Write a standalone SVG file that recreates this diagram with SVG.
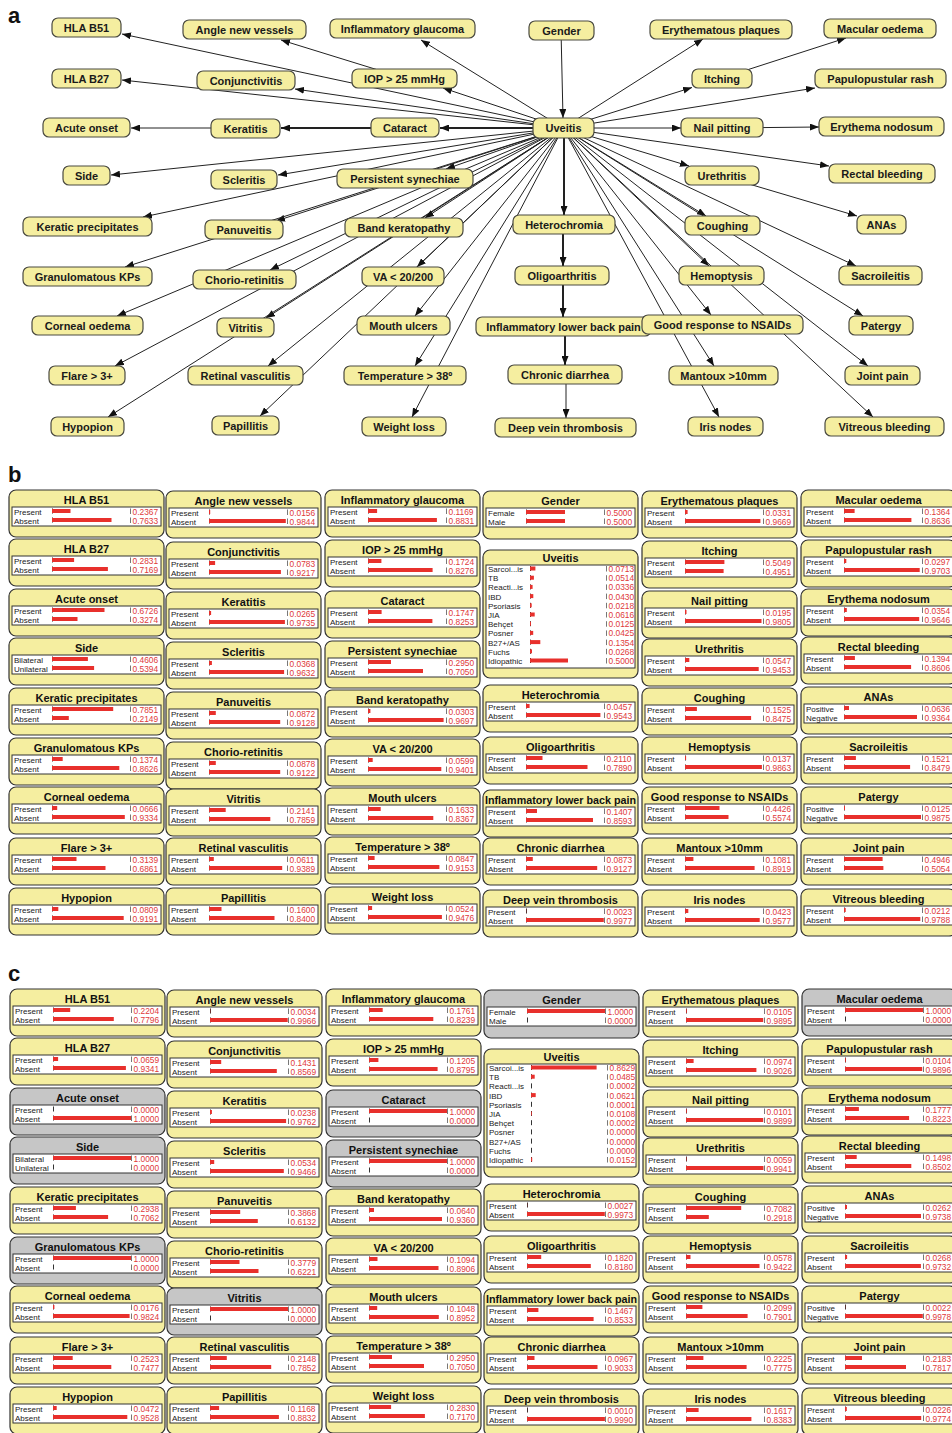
<svg xmlns="http://www.w3.org/2000/svg" xmlns:xlink="http://www.w3.org/1999/xlink" width="952" height="1433" viewBox="0 0 952 1433">
<style>
.pl{font:bold 22px 'Liberation Sans',Arial,sans-serif;fill:#111}
.nd rect{fill:#f5eea0;stroke:#4a4a40;stroke-width:1.2}
.nd text{font:bold 11px 'Liberation Sans',Arial,sans-serif;text-anchor:middle;fill:#1a1a1a}
.e{stroke:#222;stroke-width:1;fill:none;marker-end:url(#ah)}
.k{stroke-width:2}
.bx{fill:#f5eea0;stroke:#333;stroke-width:1.2}
.g{fill:#c6c6c6}
.tt{font:bold 11px 'Liberation Sans',Arial,sans-serif;text-anchor:middle;fill:#111}
.in{fill:#fff;stroke:#333;stroke-width:1}
.l{font:8px 'Liberation Sans',Arial,sans-serif;fill:#222}
.n{font:8.4px 'Liberation Sans',Arial,sans-serif;fill:#e03a3a}
.br{fill:#e8302c}
.tk{fill:#333}
.tg{fill:#777}
</style>
<defs>
<marker id="ah" markerUnits="userSpaceOnUse" markerWidth="9" markerHeight="7" refX="9" refY="3.5" orient="auto"><path d="M0,0 L9,3.5 L0,7 z" fill="#111"/></marker>
<g id="f"><rect class="in" x="3" y="17" width="149" height="19"/><rect class="tk" x="43" y="18.5" width="1" height="5"/><rect class="tk" x="43" y="27.5" width="1" height="5"/><rect class="tg" x="121" y="18.5" width="1" height="5.5"/><rect class="tg" x="121" y="27.5" width="1" height="5.5"/></g>
<g id="fp"><use href="#f"/><text class="l" x="5" y="24.5">Present</text><text class="l" x="5" y="33.5">Absent</text></g>
<g id="fg"><use href="#f"/><text class="l" x="5" y="24.5">Female</text><text class="l" x="5" y="33.5">Male</text></g>
<g id="fs"><use href="#f"/><text class="l" x="5" y="24.5">Bilateral</text><text class="l" x="5" y="33.5">Unilateral</text></g>
<g id="fn"><use href="#f"/><text class="l" x="5" y="24.5">Positive</text><text class="l" x="5" y="33.5">Negative</text></g>
<g id="fu"><rect class="in" x="3" y="15" width="149" height="103"/>
<text class="l" x="5" y="22">Sarcoi...is</text><text class="l" x="5" y="31.2">TB</text><text class="l" x="5" y="40.4">Reacti...is</text><text class="l" x="5" y="49.6">IBD</text><text class="l" x="5" y="58.8">Psoriasis</text><text class="l" x="5" y="68">JIA</text><text class="l" x="5" y="77.2">Behçet</text><text class="l" x="5" y="86.4">Posner</text><text class="l" x="5" y="95.6">B27+/AS</text><text class="l" x="5" y="104.8">Fuchs</text><text class="l" x="5" y="114">Idiopathic</text>
<g class="tk"><rect x="47" y="16" width="1" height="5"/><rect x="47" y="25.2" width="1" height="5"/><rect x="47" y="34.4" width="1" height="5"/><rect x="47" y="43.6" width="1" height="5"/><rect x="47" y="52.8" width="1" height="5"/><rect x="47" y="62" width="1" height="5"/><rect x="47" y="71.2" width="1" height="5"/><rect x="47" y="80.4" width="1" height="5"/><rect x="47" y="89.6" width="1" height="5"/><rect x="47" y="98.8" width="1" height="5"/><rect x="47" y="108" width="1" height="5"/></g>
<g class="tg"><rect x="123" y="16" width="1" height="5.5"/><rect x="123" y="25.2" width="1" height="5.5"/><rect x="123" y="34.4" width="1" height="5.5"/><rect x="123" y="43.6" width="1" height="5.5"/><rect x="123" y="52.8" width="1" height="5.5"/><rect x="123" y="62" width="1" height="5.5"/><rect x="123" y="71.2" width="1" height="5.5"/><rect x="123" y="80.4" width="1" height="5.5"/><rect x="123" y="89.6" width="1" height="5.5"/><rect x="123" y="98.8" width="1" height="5.5"/><rect x="123" y="108" width="1" height="5.5"/></g>
</g>
</defs>
<rect width="952" height="1433" fill="#fff"/>
<text class="pl" x="8" y="23">a</text>
<text class="pl" x="8" y="482">b</text>
<text class="pl" x="8" y="981">c</text>

<g id="connectors">
<line class="e" x1="563" y1="128" x2="122" y2="34"/>
<line class="e" x1="404" y1="78" x2="281" y2="40"/>
<line class="e" x1="563" y1="128" x2="421" y2="40"/>
<line class="e" x1="563" y1="128" x2="443" y2="88"/>
<line class="e" x1="563" y1="128" x2="122" y2="80"/>
<line class="e" x1="563" y1="128" x2="295" y2="89"/>
<line class="e k" x1="563" y1="128" x2="440" y2="128"/>
<line class="e k" x1="405" y1="128" x2="281" y2="128"/>
<line class="e" x1="245" y1="128" x2="131" y2="128"/>
<line class="e" x1="563" y1="128" x2="111" y2="175"/>
<line class="e" x1="563" y1="128" x2="278" y2="175"/>
<line class="e" x1="563" y1="128" x2="446" y2="169"/>
<line class="e" x1="563" y1="128" x2="143" y2="217"/>
<line class="e" x1="563" y1="128" x2="276" y2="221"/>
<line class="e" x1="563" y1="128" x2="125" y2="267"/>
<line class="e" x1="563" y1="128" x2="270" y2="270"/>
<line class="e" x1="563" y1="128" x2="117" y2="316"/>
<line class="e" x1="563" y1="128" x2="266" y2="318"/>
<line class="e" x1="563" y1="128" x2="115" y2="366"/>
<line class="e" x1="563" y1="128" x2="108" y2="417"/>
<line class="e" x1="563" y1="128" x2="268" y2="366"/>
<line class="e" x1="563" y1="128" x2="260" y2="416"/>
<line class="e" x1="563" y1="128" x2="417" y2="267"/>
<line class="e" x1="563" y1="128" x2="415" y2="316"/>
<line class="e" x1="563" y1="128" x2="415" y2="366"/>
<line class="e" x1="563" y1="128" x2="412" y2="417"/>
<line class="e" x1="563" y1="128" x2="425" y2="218"/>
<line class="e k" x1="564" y1="128" x2="564" y2="215"/>
<line class="e k" x1="563" y1="225" x2="563" y2="266"/>
<line class="e k" x1="563" y1="276" x2="563" y2="317"/>
<line class="e k" x1="565" y1="326" x2="565" y2="365"/>
<line class="e" x1="566" y1="375" x2="566" y2="418"/>
<line class="e" x1="561" y1="30" x2="563" y2="118"/>
<line class="e" x1="563" y1="128" x2="703" y2="39"/>
<line class="e" x1="722" y1="78" x2="846" y2="38"/>
<line class="e" x1="563" y1="128" x2="692" y2="87.5"/>
<line class="e" x1="563" y1="128" x2="815" y2="88"/>
<line class="e" x1="563" y1="128" x2="681" y2="128"/>
<line class="e" x1="722" y1="128" x2="819" y2="127"/>
<line class="e" x1="563" y1="128" x2="829" y2="166"/>
<line class="e" x1="563" y1="128" x2="689" y2="166"/>
<line class="e" x1="722" y1="176" x2="857" y2="216"/>
<line class="e" x1="563" y1="128" x2="706" y2="216"/>
<line class="e" x1="563" y1="128" x2="856" y2="266"/>
<line class="e" x1="563" y1="128" x2="863" y2="316"/>
<line class="e" x1="563" y1="128" x2="709" y2="266"/>
<line class="e" x1="563" y1="128" x2="711" y2="315"/>
<line class="e" x1="563" y1="128" x2="868" y2="366"/>
<line class="e" x1="563" y1="128" x2="714" y2="366"/>
<line class="e" x1="563" y1="128" x2="719" y2="417"/>
<line class="e" x1="563" y1="128" x2="873" y2="417"/>
</g>

<g id="panel-a">
<g id="a-hla-b51" class="nd"><rect x="52" y="18" width="69" height="19" rx="6"/><text x="86.5" y="31.5">HLA B51</text></g>
<g id="a-angle" class="nd"><rect x="183" y="20" width="123" height="19" rx="6"/><text x="244.5" y="33.5">Angle new vessels</text></g>
<g id="a-infl-glaucoma" class="nd"><rect x="330" y="19" width="145" height="19" rx="6"/><text x="402.5" y="32.5">Inflammatory glaucoma</text></g>
<g id="a-gender" class="nd"><rect x="529" y="21" width="65" height="19" rx="6"/><text x="561.5" y="34.5">Gender</text></g>
<g id="a-eryth-plaques" class="nd"><rect x="650" y="20" width="142" height="19" rx="6"/><text x="721" y="33.5">Erythematous plaques</text></g>
<g id="a-macular" class="nd"><rect x="824" y="19" width="112" height="19" rx="6"/><text x="880" y="32.5">Macular oedema</text></g>
<g id="a-hla-b27" class="nd"><rect x="52" y="69" width="69" height="19" rx="6"/><text x="86.5" y="82.5">HLA B27</text></g>
<g id="a-conj" class="nd"><rect x="197" y="71" width="98" height="19" rx="6"/><text x="246" y="84.5">Conjunctivitis</text></g>
<g id="a-iop" class="nd"><rect x="352" y="69" width="105" height="19" rx="6"/><text x="404.5" y="82.5">IOP &gt; 25 mmHg</text></g>
<g id="a-itching" class="nd"><rect x="692" y="69" width="60" height="19" rx="6"/><text x="722" y="82.5">Itching</text></g>
<g id="a-papulo" class="nd"><rect x="815" y="69" width="131" height="19" rx="6"/><text x="880.5" y="82.5">Papulopustular rash</text></g>
<g id="a-acute" class="nd"><rect x="43" y="118" width="87" height="19" rx="6"/><text x="86.5" y="131.5">Acute onset</text></g>
<g id="a-keratitis" class="nd"><rect x="211" y="119" width="69" height="19" rx="6"/><text x="245.5" y="132.5">Keratitis</text></g>
<g id="a-cataract" class="nd"><rect x="371" y="118" width="68" height="19" rx="6"/><text x="405" y="131.5">Cataract</text></g>
<g id="a-uveitis" class="nd"><rect x="533" y="118" width="61" height="20" rx="6"/><text x="563.5" y="132">Uveitis</text></g>
<g id="a-nail" class="nd"><rect x="681" y="118" width="82" height="19" rx="6"/><text x="722" y="131.5">Nail pitting</text></g>
<g id="a-eryth-nod" class="nd"><rect x="819" y="117" width="125" height="19" rx="6"/><text x="881.5" y="130.5">Erythema nodosum</text></g>
<g id="a-side" class="nd"><rect x="63" y="166" width="47" height="19" rx="6"/><text x="86.5" y="179.5">Side</text></g>
<g id="a-scleritis" class="nd"><rect x="211" y="170" width="66" height="19" rx="6"/><text x="244" y="183.5">Scleritis</text></g>
<g id="a-synechiae" class="nd"><rect x="337" y="169" width="136" height="19" rx="6"/><text x="405" y="182.5">Persistent synechiae</text></g>
<g id="a-urethritis" class="nd"><rect x="685" y="166" width="74" height="19" rx="6"/><text x="722" y="179.5">Urethritis</text></g>
<g id="a-rectal" class="nd"><rect x="829" y="164" width="106" height="19" rx="6"/><text x="882" y="177.5">Rectal bleeding</text></g>
<g id="a-kp" class="nd"><rect x="23" y="217" width="129" height="19" rx="6"/><text x="87.5" y="230.5">Keratic precipitates</text></g>
<g id="a-panuveitis" class="nd"><rect x="205" y="220" width="78" height="19" rx="6"/><text x="244" y="233.5">Panuveitis</text></g>
<g id="a-band" class="nd"><rect x="345" y="218" width="118" height="19" rx="6"/><text x="404" y="231.5">Band keratopathy</text></g>
<g id="a-hetero" class="nd"><rect x="513" y="215" width="102" height="19" rx="6"/><text x="564" y="228.5">Heterochromia</text></g>
<g id="a-coughing" class="nd"><rect x="685" y="216" width="75" height="19" rx="6"/><text x="722.5" y="229.5">Coughing</text></g>
<g id="a-anas" class="nd"><rect x="857" y="215" width="49" height="19" rx="6"/><text x="881.5" y="228.5">ANAs</text></g>
<g id="a-gkp" class="nd"><rect x="23" y="267" width="129" height="19" rx="6"/><text x="87.5" y="280.5">Granulomatous KPs</text></g>
<g id="a-chorio" class="nd"><rect x="193" y="270" width="103" height="19" rx="6"/><text x="244.5" y="283.5">Chorio-retinitis</text></g>
<g id="a-va" class="nd"><rect x="362" y="267" width="82" height="19" rx="6"/><text x="403" y="280.5">VA &lt; 20/200</text></g>
<g id="a-oligo" class="nd"><rect x="515" y="266" width="94" height="19" rx="6"/><text x="562" y="279.5">Oligoarthritis</text></g>
<g id="a-hemoptysis" class="nd"><rect x="679" y="266" width="85" height="19" rx="6"/><text x="721.5" y="279.5">Hemoptysis</text></g>
<g id="a-sacro" class="nd"><rect x="839" y="266" width="83" height="19" rx="6"/><text x="880.5" y="279.5">Sacroileitis</text></g>
<g id="a-corneal" class="nd"><rect x="32" y="316" width="111" height="19" rx="6"/><text x="87.5" y="329.5">Corneal oedema</text></g>
<g id="a-vitritis" class="nd"><rect x="217" y="318" width="57" height="19" rx="6"/><text x="245.5" y="331.5">Vitritis</text></g>
<g id="a-mouth" class="nd"><rect x="357" y="316" width="93" height="19" rx="6"/><text x="403.5" y="329.5">Mouth ulcers</text></g>
<g id="a-ilbp" class="nd"><rect x="476" y="317" width="175" height="19" rx="6"/><text x="563.5" y="330.5">Inflammatory lower back pain</text></g>
<g id="a-nsaids" class="nd"><rect x="642" y="315" width="161" height="19" rx="6"/><text x="722.5" y="328.5">Good response to NSAIDs</text></g>
<g id="a-patergy" class="nd"><rect x="849" y="316" width="64" height="19" rx="6"/><text x="881" y="329.5">Patergy</text></g>
<g id="a-flare" class="nd"><rect x="49" y="366" width="76" height="19" rx="6"/><text x="87" y="379.5">Flare &gt; 3+</text></g>
<g id="a-retinal" class="nd"><rect x="188" y="366" width="115" height="19" rx="6"/><text x="245.5" y="379.5">Retinal vasculitis</text></g>
<g id="a-temp" class="nd"><rect x="344" y="366" width="122" height="19" rx="6"/><text x="405" y="379.5">Temperature &gt; 38º</text></g>
<g id="a-diarrhea" class="nd"><rect x="508" y="365" width="114" height="19" rx="6"/><text x="565" y="378.5">Chronic diarrhea</text></g>
<g id="a-mantoux" class="nd"><rect x="669" y="366" width="109" height="19" rx="6"/><text x="723.5" y="379.5">Mantoux &gt;10mm</text></g>
<g id="a-joint" class="nd"><rect x="845" y="366" width="75" height="19" rx="6"/><text x="882.5" y="379.5">Joint pain</text></g>
<g id="a-hypopion" class="nd"><rect x="51" y="417" width="73" height="19" rx="6"/><text x="87.5" y="430.5">Hypopion</text></g>
<g id="a-papillitis" class="nd"><rect x="212" y="416" width="67" height="19" rx="6"/><text x="245.5" y="429.5">Papillitis</text></g>
<g id="a-weight" class="nd"><rect x="362" y="417" width="84" height="19" rx="6"/><text x="404" y="430.5">Weight loss</text></g>
<g id="a-dvt" class="nd"><rect x="495" y="418" width="141" height="19" rx="6"/><text x="565.5" y="431.5">Deep vein thrombosis</text></g>
<g id="a-iris" class="nd"><rect x="688" y="417" width="75" height="19" rx="6"/><text x="725.5" y="430.5">Iris nodes</text></g>
<g id="a-vitreous" class="nd"><rect x="825" y="417" width="119" height="19" rx="6"/><text x="884.5" y="430.5">Vitreous bleeding</text></g>
</g>

<g id="panel-b">
<g id="b-hla-b51" transform="translate(9,490)"><rect class="bx" width="155" height="47" rx="7"/><text class="tt" x="77.5" y="14">HLA B51</text><use href="#fp"/><rect class="br" x="43" y="19" width="18.5" height="4"/><rect class="br" x="43" y="28" width="59.5" height="4"/><text class="n" x="123.5" y="24.5">0.2367</text><text class="n" x="123.5" y="33.5">0.7633</text></g>
<g id="b-hla-b27" transform="translate(9,539)"><rect class="bx" width="155" height="47" rx="7"/><text class="tt" x="77.5" y="14">HLA B27</text><use href="#fp"/><rect class="br" x="43" y="19" width="22.1" height="4"/><rect class="br" x="43" y="28" width="55.9" height="4"/><text class="n" x="123.5" y="24.5">0.2831</text><text class="n" x="123.5" y="33.5">0.7169</text></g>
<g id="b-acute" transform="translate(9,589)"><rect class="bx" width="155" height="47" rx="7"/><text class="tt" x="77.5" y="14">Acute onset</text><use href="#fp"/><rect class="br" x="43" y="19" width="52.5" height="4"/><rect class="br" x="43" y="28" width="25.5" height="4"/><text class="n" x="123.5" y="24.5">0.6726</text><text class="n" x="123.5" y="33.5">0.3274</text></g>
<g id="b-side" transform="translate(9,638)"><rect class="bx" width="155" height="47" rx="7"/><text class="tt" x="77.5" y="14">Side</text><use href="#fs"/><rect class="br" x="43" y="19" width="35.9" height="4"/><rect class="br" x="43" y="28" width="42.1" height="4"/><text class="n" x="123.5" y="24.5">0.4606</text><text class="n" x="123.5" y="33.5">0.5394</text></g>
<g id="b-kp" transform="translate(9,688)"><rect class="bx" width="155" height="47" rx="7"/><text class="tt" x="77.5" y="14">Keratic precipitates</text><use href="#fp"/><rect class="br" x="43" y="19" width="61.2" height="4"/><rect class="br" x="43" y="28" width="16.8" height="4"/><text class="n" x="123.5" y="24.5">0.7851</text><text class="n" x="123.5" y="33.5">0.2149</text></g>
<g id="b-gkp" transform="translate(9,738)"><rect class="bx" width="155" height="47" rx="7"/><text class="tt" x="77.5" y="14">Granulomatous KPs</text><use href="#fp"/><rect class="br" x="43" y="19" width="10.7" height="4"/><rect class="br" x="43" y="28" width="67.3" height="4"/><text class="n" x="123.5" y="24.5">0.1374</text><text class="n" x="123.5" y="33.5">0.8626</text></g>
<g id="b-corneal" transform="translate(9,787)"><rect class="bx" width="155" height="47" rx="7"/><text class="tt" x="77.5" y="14">Corneal oedema</text><use href="#fp"/><rect class="br" x="43" y="19" width="5.2" height="4"/><rect class="br" x="43" y="28" width="72.8" height="4"/><text class="n" x="123.5" y="24.5">0.0666</text><text class="n" x="123.5" y="33.5">0.9334</text></g>
<g id="b-flare" transform="translate(9,838)"><rect class="bx" width="155" height="47" rx="7"/><text class="tt" x="77.5" y="14">Flare &gt; 3+</text><use href="#fp"/><rect class="br" x="43" y="19" width="24.5" height="4"/><rect class="br" x="43" y="28" width="53.5" height="4"/><text class="n" x="123.5" y="24.5">0.3139</text><text class="n" x="123.5" y="33.5">0.6861</text></g>
<g id="b-hypopion" transform="translate(9,888)"><rect class="bx" width="155" height="47" rx="7"/><text class="tt" x="77.5" y="14">Hypopion</text><use href="#fp"/><rect class="br" x="43" y="19" width="6.3" height="4"/><rect class="br" x="43" y="28" width="71.7" height="4"/><text class="n" x="123.5" y="24.5">0.0809</text><text class="n" x="123.5" y="33.5">0.9191</text></g>

<g id="b-angle" transform="translate(166,491)"><rect class="bx" width="155" height="47" rx="7"/><text class="tt" x="77.5" y="14">Angle new vessels</text><use href="#fp"/><rect class="br" x="43" y="19" width="1.2" height="4"/><rect class="br" x="43" y="28" width="76.8" height="4"/><text class="n" x="123.5" y="24.5">0.0156</text><text class="n" x="123.5" y="33.5">0.9844</text></g>
<g id="b-conj" transform="translate(166,542)"><rect class="bx" width="155" height="47" rx="7"/><text class="tt" x="77.5" y="14">Conjunctivitis</text><use href="#fp"/><rect class="br" x="43" y="19" width="6.1" height="4"/><rect class="br" x="43" y="28" width="71.9" height="4"/><text class="n" x="123.5" y="24.5">0.0783</text><text class="n" x="123.5" y="33.5">0.9217</text></g>
<g id="b-keratitis" transform="translate(166,592)"><rect class="bx" width="155" height="47" rx="7"/><text class="tt" x="77.5" y="14">Keratitis</text><use href="#fp"/><rect class="br" x="43" y="19" width="2.1" height="4"/><rect class="br" x="43" y="28" width="75.9" height="4"/><text class="n" x="123.5" y="24.5">0.0265</text><text class="n" x="123.5" y="33.5">0.9735</text></g>
<g id="b-scleritis" transform="translate(166,642)"><rect class="bx" width="155" height="47" rx="7"/><text class="tt" x="77.5" y="14">Scleritis</text><use href="#fp"/><rect class="br" x="43" y="19" width="2.9" height="4"/><rect class="br" x="43" y="28" width="75.1" height="4"/><text class="n" x="123.5" y="24.5">0.0368</text><text class="n" x="123.5" y="33.5">0.9632</text></g>
<g id="b-panuveitis" transform="translate(166,692)"><rect class="bx" width="155" height="47" rx="7"/><text class="tt" x="77.5" y="14">Panuveitis</text><use href="#fp"/><rect class="br" x="43" y="19" width="6.8" height="4"/><rect class="br" x="43" y="28" width="71.2" height="4"/><text class="n" x="123.5" y="24.5">0.0872</text><text class="n" x="123.5" y="33.5">0.9128</text></g>
<g id="b-chorio" transform="translate(166,742)"><rect class="bx" width="155" height="47" rx="7"/><text class="tt" x="77.5" y="14">Chorio-retinitis</text><use href="#fp"/><rect class="br" x="43" y="19" width="6.8" height="4"/><rect class="br" x="43" y="28" width="71.2" height="4"/><text class="n" x="123.5" y="24.5">0.0878</text><text class="n" x="123.5" y="33.5">0.9122</text></g>
<g id="b-vitritis" transform="translate(166,789)"><rect class="bx" width="155" height="47" rx="7"/><text class="tt" x="77.5" y="14">Vitritis</text><use href="#fp"/><rect class="br" x="43" y="19" width="16.7" height="4"/><rect class="br" x="43" y="28" width="61.3" height="4"/><text class="n" x="123.5" y="24.5">0.2141</text><text class="n" x="123.5" y="33.5">0.7859</text></g>
<g id="b-retinal" transform="translate(166,838)"><rect class="bx" width="155" height="47" rx="7"/><text class="tt" x="77.5" y="14">Retinal vasculitis</text><use href="#fp"/><rect class="br" x="43" y="19" width="4.8" height="4"/><rect class="br" x="43" y="28" width="73.2" height="4"/><text class="n" x="123.5" y="24.5">0.0611</text><text class="n" x="123.5" y="33.5">0.9389</text></g>
<g id="b-papillitis" transform="translate(166,888)"><rect class="bx" width="155" height="47" rx="7"/><text class="tt" x="77.5" y="14">Papillitis</text><use href="#fp"/><rect class="br" x="43" y="19" width="12.5" height="4"/><rect class="br" x="43" y="28" width="65.5" height="4"/><text class="n" x="123.5" y="24.5">0.1600</text><text class="n" x="123.5" y="33.5">0.8400</text></g>

<g id="b-infl-glaucoma" transform="translate(325,490)"><rect class="bx" width="155" height="47" rx="7"/><text class="tt" x="77.5" y="14">Inflammatory glaucoma</text><use href="#fp"/><rect class="br" x="43" y="19" width="9.1" height="4"/><rect class="br" x="43" y="28" width="68.9" height="4"/><text class="n" x="123.5" y="24.5">0.1169</text><text class="n" x="123.5" y="33.5">0.8831</text></g>
<g id="b-iop" transform="translate(325,540)"><rect class="bx" width="155" height="47" rx="7"/><text class="tt" x="77.5" y="14">IOP &gt; 25 mmHg</text><use href="#fp"/><rect class="br" x="43" y="19" width="13.4" height="4"/><rect class="br" x="43" y="28" width="64.6" height="4"/><text class="n" x="123.5" y="24.5">0.1724</text><text class="n" x="123.5" y="33.5">0.8276</text></g>
<g id="b-cataract" transform="translate(325,591)"><rect class="bx" width="155" height="47" rx="7"/><text class="tt" x="77.5" y="14">Cataract</text><use href="#fp"/><rect class="br" x="43" y="19" width="13.6" height="4"/><rect class="br" x="43" y="28" width="64.4" height="4"/><text class="n" x="123.5" y="24.5">0.1747</text><text class="n" x="123.5" y="33.5">0.8253</text></g>
<g id="b-synechiae" transform="translate(325,641)"><rect class="bx" width="155" height="47" rx="7"/><text class="tt" x="77.5" y="14">Persistent synechiae</text><use href="#fp"/><rect class="br" x="43" y="19" width="23" height="4"/><rect class="br" x="43" y="28" width="55" height="4"/><text class="n" x="123.5" y="24.5">0.2950</text><text class="n" x="123.5" y="33.5">0.7050</text></g>
<g id="b-band" transform="translate(325,690)"><rect class="bx" width="155" height="47" rx="7"/><text class="tt" x="77.5" y="14">Band keratopathy</text><use href="#fp"/><rect class="br" x="43" y="19" width="2.4" height="4"/><rect class="br" x="43" y="28" width="75.6" height="4"/><text class="n" x="123.5" y="24.5">0.0303</text><text class="n" x="123.5" y="33.5">0.9697</text></g>
<g id="b-va" transform="translate(325,739)"><rect class="bx" width="155" height="47" rx="7"/><text class="tt" x="77.5" y="14">VA &lt; 20/200</text><use href="#fp"/><rect class="br" x="43" y="19" width="4.7" height="4"/><rect class="br" x="43" y="28" width="73.3" height="4"/><text class="n" x="123.5" y="24.5">0.0599</text><text class="n" x="123.5" y="33.5">0.9401</text></g>
<g id="b-mouth" transform="translate(325,788)"><rect class="bx" width="155" height="47" rx="7"/><text class="tt" x="77.5" y="14">Mouth ulcers</text><use href="#fp"/><rect class="br" x="43" y="19" width="12.7" height="4"/><rect class="br" x="43" y="28" width="65.3" height="4"/><text class="n" x="123.5" y="24.5">0.1633</text><text class="n" x="123.5" y="33.5">0.8367</text></g>
<g id="b-temp" transform="translate(325,837)"><rect class="bx" width="155" height="47" rx="7"/><text class="tt" x="77.5" y="14">Temperature &gt; 38º</text><use href="#fp"/><rect class="br" x="43" y="19" width="6.6" height="4"/><rect class="br" x="43" y="28" width="71.4" height="4"/><text class="n" x="123.5" y="24.5">0.0847</text><text class="n" x="123.5" y="33.5">0.9153</text></g>
<g id="b-weight" transform="translate(325,887)"><rect class="bx" width="155" height="47" rx="7"/><text class="tt" x="77.5" y="14">Weight loss</text><use href="#fp"/><rect class="br" x="43" y="19" width="4.1" height="4"/><rect class="br" x="43" y="28" width="73.9" height="4"/><text class="n" x="123.5" y="24.5">0.0524</text><text class="n" x="123.5" y="33.5">0.9476</text></g>

<g id="b-gender" transform="translate(483,491)"><rect class="bx" width="155" height="48" rx="7"/><text class="tt" x="77.5" y="14">Gender</text><use href="#fg"/><rect class="br" x="43" y="19" width="39" height="4"/><rect class="br" x="43" y="28" width="39" height="4"/><text class="n" x="123.5" y="24.5">0.5000</text><text class="n" x="123.5" y="33.5">0.5000</text></g>
<g id="b-uveitis" transform="translate(483,550)"><rect class="bx" width="155" height="128" rx="7"/><text class="tt" x="77.5" y="12">Uveitis</text><use href="#fu"/>
<g class="br"><rect x="47" y="16.5" width="5.4" height="4"/><rect x="47" y="25.7" width="3.9" height="4"/><rect x="47" y="34.9" width="2.6" height="4"/><rect x="47" y="44.1" width="3.3" height="4"/><rect x="47" y="53.3" width="1.7" height="4"/><rect x="47" y="62.5" width="4.7" height="4"/><rect x="47" y="71.7" width="1" height="4"/><rect x="47" y="80.9" width="3.2" height="4"/><rect x="47" y="90.1" width="10.3" height="4"/><rect x="47" y="99.3" width="2" height="4"/><rect x="47" y="108.5" width="38" height="4"/></g>
<text class="n" x="125.5" y="22">0.0713</text><text class="n" x="125.5" y="31.2">0.0514</text><text class="n" x="125.5" y="40.4">0.0336</text><text class="n" x="125.5" y="49.6">0.0430</text><text class="n" x="125.5" y="58.8">0.0218</text><text class="n" x="125.5" y="68">0.0616</text><text class="n" x="125.5" y="77.2">0.0125</text><text class="n" x="125.5" y="86.4">0.0425</text><text class="n" x="125.5" y="95.6">0.1354</text><text class="n" x="125.5" y="104.8">0.0268</text><text class="n" x="125.5" y="114">0.5000</text></g>
<g id="b-hetero" transform="translate(483,685)"><rect class="bx" width="155" height="47" rx="7"/><text class="tt" x="77.5" y="14">Heterochromia</text><use href="#fp"/><rect class="br" x="43" y="19" width="3.6" height="4"/><rect class="br" x="43" y="28" width="74.4" height="4"/><text class="n" x="123.5" y="24.5">0.0457</text><text class="n" x="123.5" y="33.5">0.9543</text></g>
<g id="b-oligo" transform="translate(483,737)"><rect class="bx" width="155" height="47" rx="7"/><text class="tt" x="77.5" y="14">Oligoarthritis</text><use href="#fp"/><rect class="br" x="43" y="19" width="16.5" height="4"/><rect class="br" x="43" y="28" width="61.5" height="4"/><text class="n" x="123.5" y="24.5">0.2110</text><text class="n" x="123.5" y="33.5">0.7890</text></g>
<g id="b-ilbp" transform="translate(483,790)"><rect class="bx" width="155" height="47" rx="7"/><text class="tt" x="77.5" y="14" textLength="151" lengthAdjust="spacingAndGlyphs">Inflammatory lower back pain</text><use href="#fp"/><rect class="br" x="43" y="19" width="11" height="4"/><rect class="br" x="43" y="28" width="67" height="4"/><text class="n" x="123.5" y="24.5">0.1407</text><text class="n" x="123.5" y="33.5">0.8593</text></g>
<g id="b-diarrhea" transform="translate(483,838)"><rect class="bx" width="155" height="47" rx="7"/><text class="tt" x="77.5" y="14">Chronic diarrhea</text><use href="#fp"/><rect class="br" x="43" y="19" width="6.8" height="4"/><rect class="br" x="43" y="28" width="71.2" height="4"/><text class="n" x="123.5" y="24.5">0.0873</text><text class="n" x="123.5" y="33.5">0.9127</text></g>
<g id="b-dvt" transform="translate(483,890)"><rect class="bx" width="155" height="47" rx="7"/><text class="tt" x="77.5" y="14">Deep vein thrombosis</text><use href="#fp"/><rect class="br" x="43" y="19" width="0.2" height="4"/><rect class="br" x="43" y="28" width="77.8" height="4"/><text class="n" x="123.5" y="24.5">0.0023</text><text class="n" x="123.5" y="33.5">0.9977</text></g>

<g id="b-eryth-plaques" transform="translate(642,491)"><rect class="bx" width="155" height="47" rx="7"/><text class="tt" x="77.5" y="14">Erythematous plaques</text><use href="#fp"/><rect class="br" x="43" y="19" width="2.6" height="4"/><rect class="br" x="43" y="28" width="75.4" height="4"/><text class="n" x="123.5" y="24.5">0.0331</text><text class="n" x="123.5" y="33.5">0.9669</text></g>
<g id="b-itching" transform="translate(642,541)"><rect class="bx" width="155" height="47" rx="7"/><text class="tt" x="77.5" y="14">Itching</text><use href="#fp"/><rect class="br" x="43" y="19" width="39.4" height="4"/><rect class="br" x="43" y="28" width="38.6" height="4"/><text class="n" x="123.5" y="24.5">0.5049</text><text class="n" x="123.5" y="33.5">0.4951</text></g>
<g id="b-nail" transform="translate(642,591)"><rect class="bx" width="155" height="47" rx="7"/><text class="tt" x="77.5" y="14">Nail pitting</text><use href="#fp"/><rect class="br" x="43" y="19" width="1.5" height="4"/><rect class="br" x="43" y="28" width="76.5" height="4"/><text class="n" x="123.5" y="24.5">0.0195</text><text class="n" x="123.5" y="33.5">0.9805</text></g>
<g id="b-urethritis" transform="translate(642,639)"><rect class="bx" width="155" height="47" rx="7"/><text class="tt" x="77.5" y="14">Urethritis</text><use href="#fp"/><rect class="br" x="43" y="19" width="4.3" height="4"/><rect class="br" x="43" y="28" width="73.7" height="4"/><text class="n" x="123.5" y="24.5">0.0547</text><text class="n" x="123.5" y="33.5">0.9453</text></g>
<g id="b-coughing" transform="translate(642,688)"><rect class="bx" width="155" height="47" rx="7"/><text class="tt" x="77.5" y="14">Coughing</text><use href="#fp"/><rect class="br" x="43" y="19" width="11.9" height="4"/><rect class="br" x="43" y="28" width="66.1" height="4"/><text class="n" x="123.5" y="24.5">0.1525</text><text class="n" x="123.5" y="33.5">0.8475</text></g>
<g id="b-hemoptysis" transform="translate(642,737)"><rect class="bx" width="155" height="47" rx="7"/><text class="tt" x="77.5" y="14">Hemoptysis</text><use href="#fp"/><rect class="br" x="43" y="19" width="1.1" height="4"/><rect class="br" x="43" y="28" width="76.9" height="4"/><text class="n" x="123.5" y="24.5">0.0137</text><text class="n" x="123.5" y="33.5">0.9863</text></g>
<g id="b-nsaids" transform="translate(642,787)"><rect class="bx" width="155" height="47" rx="7"/><text class="tt" x="77.5" y="14">Good response to NSAIDs</text><use href="#fp"/><rect class="br" x="43" y="19" width="34.5" height="4"/><rect class="br" x="43" y="28" width="43.5" height="4"/><text class="n" x="123.5" y="24.5">0.4426</text><text class="n" x="123.5" y="33.5">0.5574</text></g>
<g id="b-mantoux" transform="translate(642,838)"><rect class="bx" width="155" height="47" rx="7"/><text class="tt" x="77.5" y="14">Mantoux &gt;10mm</text><use href="#fp"/><rect class="br" x="43" y="19" width="8.4" height="4"/><rect class="br" x="43" y="28" width="69.6" height="4"/><text class="n" x="123.5" y="24.5">0.1081</text><text class="n" x="123.5" y="33.5">0.8919</text></g>
<g id="b-iris" transform="translate(642,890)"><rect class="bx" width="155" height="47" rx="7"/><text class="tt" x="77.5" y="14">Iris nodes</text><use href="#fp"/><rect class="br" x="43" y="19" width="3.3" height="4"/><rect class="br" x="43" y="28" width="74.7" height="4"/><text class="n" x="123.5" y="24.5">0.0423</text><text class="n" x="123.5" y="33.5">0.9577</text></g>

<g id="b-macular" transform="translate(801,490)"><rect class="bx" width="155" height="47" rx="7"/><text class="tt" x="77.5" y="14">Macular oedema</text><use href="#fp"/><rect class="br" x="43" y="19" width="10.6" height="4"/><rect class="br" x="43" y="28" width="67.4" height="4"/><text class="n" x="123.5" y="24.5">0.1364</text><text class="n" x="123.5" y="33.5">0.8636</text></g>
<g id="b-papulo" transform="translate(801,540)"><rect class="bx" width="155" height="47" rx="7"/><text class="tt" x="77.5" y="14">Papulopustular rash</text><use href="#fp"/><rect class="br" x="43" y="19" width="2.3" height="4"/><rect class="br" x="43" y="28" width="75.7" height="4"/><text class="n" x="123.5" y="24.5">0.0297</text><text class="n" x="123.5" y="33.5">0.9703</text></g>
<g id="b-eryth-nod" transform="translate(801,589)"><rect class="bx" width="155" height="47" rx="7"/><text class="tt" x="77.5" y="14">Erythema nodosum</text><use href="#fp"/><rect class="br" x="43" y="19" width="2.8" height="4"/><rect class="br" x="43" y="28" width="75.2" height="4"/><text class="n" x="123.5" y="24.5">0.0354</text><text class="n" x="123.5" y="33.5">0.9646</text></g>
<g id="b-rectal" transform="translate(801,637)"><rect class="bx" width="155" height="47" rx="7"/><text class="tt" x="77.5" y="14">Rectal bleeding</text><use href="#fp"/><rect class="br" x="43" y="19" width="10.9" height="4"/><rect class="br" x="43" y="28" width="67.1" height="4"/><text class="n" x="123.5" y="24.5">0.1394</text><text class="n" x="123.5" y="33.5">0.8606</text></g>
<g id="b-anas" transform="translate(801,687)"><rect class="bx" width="155" height="47" rx="7"/><text class="tt" x="77.5" y="14">ANAs</text><use href="#fn"/><rect class="br" x="43" y="19" width="5" height="4"/><rect class="br" x="43" y="28" width="73" height="4"/><text class="n" x="123.5" y="24.5">0.0636</text><text class="n" x="123.5" y="33.5">0.9364</text></g>
<g id="b-sacro" transform="translate(801,737)"><rect class="bx" width="155" height="47" rx="7"/><text class="tt" x="77.5" y="14">Sacroileitis</text><use href="#fp"/><rect class="br" x="43" y="19" width="11.9" height="4"/><rect class="br" x="43" y="28" width="66.1" height="4"/><text class="n" x="123.5" y="24.5">0.1521</text><text class="n" x="123.5" y="33.5">0.8479</text></g>
<g id="b-patergy" transform="translate(801,787)"><rect class="bx" width="155" height="47" rx="7"/><text class="tt" x="77.5" y="14">Patergy</text><use href="#fn"/><rect class="br" x="43" y="19" width="1" height="4"/><rect class="br" x="43" y="28" width="77" height="4"/><text class="n" x="123.5" y="24.5">0.0125</text><text class="n" x="123.5" y="33.5">0.9875</text></g>
<g id="b-joint" transform="translate(801,838)"><rect class="bx" width="155" height="47" rx="7"/><text class="tt" x="77.5" y="14">Joint pain</text><use href="#fp"/><rect class="br" x="43" y="19" width="38.6" height="4"/><rect class="br" x="43" y="28" width="39.4" height="4"/><text class="n" x="123.5" y="24.5">0.4946</text><text class="n" x="123.5" y="33.5">0.5054</text></g>
<g id="b-vitreous" transform="translate(801,889)"><rect class="bx" width="155" height="47" rx="7"/><text class="tt" x="77.5" y="14">Vitreous bleeding</text><use href="#fp"/><rect class="br" x="43" y="19" width="1.7" height="4"/><rect class="br" x="43" y="28" width="76.3" height="4"/><text class="n" x="123.5" y="24.5">0.0212</text><text class="n" x="123.5" y="33.5">0.9788</text></g>
</g>

<g id="panel-c" transform="translate(1,499)">
<g id="c-hla-b51" transform="translate(9,490)"><rect class="bx" width="155" height="47" rx="7"/><text class="tt" x="77.5" y="14">HLA B51</text><use href="#fp"/><rect class="br" x="43" y="19" width="17.2" height="4"/><rect class="br" x="43" y="28" width="60.8" height="4"/><text class="n" x="123.5" y="24.5">0.2204</text><text class="n" x="123.5" y="33.5">0.7796</text></g>
<g id="c-hla-b27" transform="translate(9,539)"><rect class="bx" width="155" height="47" rx="7"/><text class="tt" x="77.5" y="14">HLA B27</text><use href="#fp"/><rect class="br" x="43" y="19" width="5.1" height="4"/><rect class="br" x="43" y="28" width="72.9" height="4"/><text class="n" x="123.5" y="24.5">0.0659</text><text class="n" x="123.5" y="33.5">0.9341</text></g>
<g id="c-acute" transform="translate(9,589)"><rect class="bx g" width="155" height="47" rx="7"/><text class="tt" x="77.5" y="14">Acute onset</text><use href="#fp"/><rect class="br" x="43" y="28" width="78" height="4"/><text class="n" x="123.5" y="24.5">0.0000</text><text class="n" x="123.5" y="33.5">1.0000</text></g>
<g id="c-side" transform="translate(9,638)"><rect class="bx g" width="155" height="47" rx="7"/><text class="tt" x="77.5" y="14">Side</text><use href="#fs"/><rect class="br" x="43" y="19" width="78" height="4"/><text class="n" x="123.5" y="24.5">1.0000</text><text class="n" x="123.5" y="33.5">0.0000</text></g>
<g id="c-kp" transform="translate(9,688)"><rect class="bx" width="155" height="47" rx="7"/><text class="tt" x="77.5" y="14">Keratic precipitates</text><use href="#fp"/><rect class="br" x="43" y="19" width="22.9" height="4"/><rect class="br" x="43" y="28" width="55.1" height="4"/><text class="n" x="123.5" y="24.5">0.2938</text><text class="n" x="123.5" y="33.5">0.7062</text></g>
<g id="c-gkp" transform="translate(9,738)"><rect class="bx g" width="155" height="47" rx="7"/><text class="tt" x="77.5" y="14">Granulomatous KPs</text><use href="#fp"/><rect class="br" x="43" y="19" width="78" height="4"/><text class="n" x="123.5" y="24.5">1.0000</text><text class="n" x="123.5" y="33.5">0.0000</text></g>
<g id="c-corneal" transform="translate(9,787)"><rect class="bx" width="155" height="47" rx="7"/><text class="tt" x="77.5" y="14">Corneal oedema</text><use href="#fp"/><rect class="br" x="43" y="19" width="1.4" height="4"/><rect class="br" x="43" y="28" width="76.6" height="4"/><text class="n" x="123.5" y="24.5">0.0176</text><text class="n" x="123.5" y="33.5">0.9824</text></g>
<g id="c-flare" transform="translate(9,838)"><rect class="bx" width="155" height="47" rx="7"/><text class="tt" x="77.5" y="14">Flare &gt; 3+</text><use href="#fp"/><rect class="br" x="43" y="19" width="19.7" height="4"/><rect class="br" x="43" y="28" width="58.3" height="4"/><text class="n" x="123.5" y="24.5">0.2523</text><text class="n" x="123.5" y="33.5">0.7477</text></g>
<g id="c-hypopion" transform="translate(9,888)"><rect class="bx" width="155" height="47" rx="7"/><text class="tt" x="77.5" y="14">Hypopion</text><use href="#fp"/><rect class="br" x="43" y="19" width="3.7" height="4"/><rect class="br" x="43" y="28" width="74.3" height="4"/><text class="n" x="123.5" y="24.5">0.0472</text><text class="n" x="123.5" y="33.5">0.9528</text></g>

<g id="c-angle" transform="translate(166,491)"><rect class="bx" width="155" height="47" rx="7"/><text class="tt" x="77.5" y="14">Angle new vessels</text><use href="#fp"/><rect class="br" x="43" y="19" width="0.3" height="4"/><rect class="br" x="43" y="28" width="77.7" height="4"/><text class="n" x="123.5" y="24.5">0.0034</text><text class="n" x="123.5" y="33.5">0.9966</text></g>
<g id="c-conj" transform="translate(166,542)"><rect class="bx" width="155" height="47" rx="7"/><text class="tt" x="77.5" y="14">Conjunctivitis</text><use href="#fp"/><rect class="br" x="43" y="19" width="11.2" height="4"/><rect class="br" x="43" y="28" width="66.8" height="4"/><text class="n" x="123.5" y="24.5">0.1431</text><text class="n" x="123.5" y="33.5">0.8569</text></g>
<g id="c-keratitis" transform="translate(166,592)"><rect class="bx" width="155" height="47" rx="7"/><text class="tt" x="77.5" y="14">Keratitis</text><use href="#fp"/><rect class="br" x="43" y="19" width="1.9" height="4"/><rect class="br" x="43" y="28" width="76.1" height="4"/><text class="n" x="123.5" y="24.5">0.0238</text><text class="n" x="123.5" y="33.5">0.9762</text></g>
<g id="c-scleritis" transform="translate(166,642)"><rect class="bx" width="155" height="47" rx="7"/><text class="tt" x="77.5" y="14">Scleritis</text><use href="#fp"/><rect class="br" x="43" y="19" width="4.2" height="4"/><rect class="br" x="43" y="28" width="73.8" height="4"/><text class="n" x="123.5" y="24.5">0.0534</text><text class="n" x="123.5" y="33.5">0.9466</text></g>
<g id="c-panuveitis" transform="translate(166,692)"><rect class="bx" width="155" height="47" rx="7"/><text class="tt" x="77.5" y="14">Panuveitis</text><use href="#fp"/><rect class="br" x="43" y="19" width="30.2" height="4"/><rect class="br" x="43" y="28" width="47.8" height="4"/><text class="n" x="123.5" y="24.5">0.3868</text><text class="n" x="123.5" y="33.5">0.6132</text></g>
<g id="c-chorio" transform="translate(166,742)"><rect class="bx" width="155" height="47" rx="7"/><text class="tt" x="77.5" y="14">Chorio-retinitis</text><use href="#fp"/><rect class="br" x="43" y="19" width="29.5" height="4"/><rect class="br" x="43" y="28" width="48.5" height="4"/><text class="n" x="123.5" y="24.5">0.3779</text><text class="n" x="123.5" y="33.5">0.6221</text></g>
<g id="c-vitritis" transform="translate(166,789)"><rect class="bx g" width="155" height="47" rx="7"/><text class="tt" x="77.5" y="14">Vitritis</text><use href="#fp"/><rect class="br" x="43" y="19" width="78" height="4"/><text class="n" x="123.5" y="24.5">1.0000</text><text class="n" x="123.5" y="33.5">0.0000</text></g>
<g id="c-retinal" transform="translate(166,838)"><rect class="bx" width="155" height="47" rx="7"/><text class="tt" x="77.5" y="14">Retinal vasculitis</text><use href="#fp"/><rect class="br" x="43" y="19" width="16.8" height="4"/><rect class="br" x="43" y="28" width="61.2" height="4"/><text class="n" x="123.5" y="24.5">0.2148</text><text class="n" x="123.5" y="33.5">0.7852</text></g>
<g id="c-papillitis" transform="translate(166,888)"><rect class="bx" width="155" height="47" rx="7"/><text class="tt" x="77.5" y="14">Papillitis</text><use href="#fp"/><rect class="br" x="43" y="19" width="9.1" height="4"/><rect class="br" x="43" y="28" width="68.9" height="4"/><text class="n" x="123.5" y="24.5">0.1168</text><text class="n" x="123.5" y="33.5">0.8832</text></g>

<g id="c-infl-glaucoma" transform="translate(325,490)"><rect class="bx" width="155" height="47" rx="7"/><text class="tt" x="77.5" y="14">Inflammatory glaucoma</text><use href="#fp"/><rect class="br" x="43" y="19" width="13.7" height="4"/><rect class="br" x="43" y="28" width="64.3" height="4"/><text class="n" x="123.5" y="24.5">0.1761</text><text class="n" x="123.5" y="33.5">0.8239</text></g>
<g id="c-iop" transform="translate(325,540)"><rect class="bx" width="155" height="47" rx="7"/><text class="tt" x="77.5" y="14">IOP &gt; 25 mmHg</text><use href="#fp"/><rect class="br" x="43" y="19" width="9.4" height="4"/><rect class="br" x="43" y="28" width="68.6" height="4"/><text class="n" x="123.5" y="24.5">0.1205</text><text class="n" x="123.5" y="33.5">0.8795</text></g>
<g id="c-cataract" transform="translate(325,591)"><rect class="bx g" width="155" height="47" rx="7"/><text class="tt" x="77.5" y="14">Cataract</text><use href="#fp"/><rect class="br" x="43" y="19" width="78" height="4"/><text class="n" x="123.5" y="24.5">1.0000</text><text class="n" x="123.5" y="33.5">0.0000</text></g>
<g id="c-synechiae" transform="translate(325,641)"><rect class="bx g" width="155" height="47" rx="7"/><text class="tt" x="77.5" y="14">Persistent synechiae</text><use href="#fp"/><rect class="br" x="43" y="19" width="78" height="4"/><text class="n" x="123.5" y="24.5">1.0000</text><text class="n" x="123.5" y="33.5">0.0000</text></g>
<g id="c-band" transform="translate(325,690)"><rect class="bx" width="155" height="47" rx="7"/><text class="tt" x="77.5" y="14">Band keratopathy</text><use href="#fp"/><rect class="br" x="43" y="19" width="5" height="4"/><rect class="br" x="43" y="28" width="73" height="4"/><text class="n" x="123.5" y="24.5">0.0640</text><text class="n" x="123.5" y="33.5">0.9360</text></g>
<g id="c-va" transform="translate(325,739)"><rect class="bx" width="155" height="47" rx="7"/><text class="tt" x="77.5" y="14">VA &lt; 20/200</text><use href="#fp"/><rect class="br" x="43" y="19" width="8.5" height="4"/><rect class="br" x="43" y="28" width="69.5" height="4"/><text class="n" x="123.5" y="24.5">0.1094</text><text class="n" x="123.5" y="33.5">0.8906</text></g>
<g id="c-mouth" transform="translate(325,788)"><rect class="bx" width="155" height="47" rx="7"/><text class="tt" x="77.5" y="14">Mouth ulcers</text><use href="#fp"/><rect class="br" x="43" y="19" width="8.2" height="4"/><rect class="br" x="43" y="28" width="69.8" height="4"/><text class="n" x="123.5" y="24.5">0.1048</text><text class="n" x="123.5" y="33.5">0.8952</text></g>
<g id="c-temp" transform="translate(325,837)"><rect class="bx" width="155" height="47" rx="7"/><text class="tt" x="77.5" y="14">Temperature &gt; 38º</text><use href="#fp"/><rect class="br" x="43" y="19" width="23" height="4"/><rect class="br" x="43" y="28" width="55" height="4"/><text class="n" x="123.5" y="24.5">0.2950</text><text class="n" x="123.5" y="33.5">0.7050</text></g>
<g id="c-weight" transform="translate(325,887)"><rect class="bx" width="155" height="47" rx="7"/><text class="tt" x="77.5" y="14">Weight loss</text><use href="#fp"/><rect class="br" x="43" y="19" width="22.1" height="4"/><rect class="br" x="43" y="28" width="55.9" height="4"/><text class="n" x="123.5" y="24.5">0.2830</text><text class="n" x="123.5" y="33.5">0.7170</text></g>

<g id="c-gender" transform="translate(483,491)"><rect class="bx g" width="155" height="48" rx="7"/><text class="tt" x="77.5" y="14">Gender</text><use href="#fg"/><rect class="br" x="43" y="19" width="78" height="4"/><text class="n" x="123.5" y="24.5">1.0000</text><text class="n" x="123.5" y="33.5">0.0000</text></g>
<g id="c-uveitis" transform="translate(483,550)"><rect class="bx" width="155" height="128" rx="7"/><text class="tt" x="77.5" y="12">Uveitis</text><use href="#fu"/>
<g class="br"><rect x="47" y="16.5" width="65.6" height="4"/><rect x="47" y="25.7" width="3.7" height="4"/><rect x="47" y="44.1" width="4.7" height="4"/><rect x="47" y="62.5" width="0.8" height="4"/><rect x="47" y="108.5" width="1.2" height="4"/></g>
<text class="n" x="125.5" y="22">0.8629</text><text class="n" x="125.5" y="31.2">0.0485</text><text class="n" x="125.5" y="40.4">0.0002</text><text class="n" x="125.5" y="49.6">0.0621</text><text class="n" x="125.5" y="58.8">0.0001</text><text class="n" x="125.5" y="68">0.0108</text><text class="n" x="125.5" y="77.2">0.0002</text><text class="n" x="125.5" y="86.4">0.0000</text><text class="n" x="125.5" y="95.6">0.0000</text><text class="n" x="125.5" y="104.8">0.0000</text><text class="n" x="125.5" y="114">0.0152</text></g>
<g id="c-hetero" transform="translate(483,685)"><rect class="bx" width="155" height="47" rx="7"/><text class="tt" x="77.5" y="14">Heterochromia</text><use href="#fp"/><rect class="br" x="43" y="19" width="0.2" height="4"/><rect class="br" x="43" y="28" width="77.8" height="4"/><text class="n" x="123.5" y="24.5">0.0027</text><text class="n" x="123.5" y="33.5">0.9973</text></g>
<g id="c-oligo" transform="translate(483,737)"><rect class="bx" width="155" height="47" rx="7"/><text class="tt" x="77.5" y="14">Oligoarthritis</text><use href="#fp"/><rect class="br" x="43" y="19" width="14.2" height="4"/><rect class="br" x="43" y="28" width="63.8" height="4"/><text class="n" x="123.5" y="24.5">0.1820</text><text class="n" x="123.5" y="33.5">0.8180</text></g>
<g id="c-ilbp" transform="translate(483,790)"><rect class="bx" width="155" height="47" rx="7"/><text class="tt" x="77.5" y="14" textLength="151" lengthAdjust="spacingAndGlyphs">Inflammatory lower back pain</text><use href="#fp"/><rect class="br" x="43" y="19" width="11.4" height="4"/><rect class="br" x="43" y="28" width="66.6" height="4"/><text class="n" x="123.5" y="24.5">0.1467</text><text class="n" x="123.5" y="33.5">0.8533</text></g>
<g id="c-diarrhea" transform="translate(483,838)"><rect class="bx" width="155" height="47" rx="7"/><text class="tt" x="77.5" y="14">Chronic diarrhea</text><use href="#fp"/><rect class="br" x="43" y="19" width="7.5" height="4"/><rect class="br" x="43" y="28" width="70.5" height="4"/><text class="n" x="123.5" y="24.5">0.0967</text><text class="n" x="123.5" y="33.5">0.9033</text></g>
<g id="c-dvt" transform="translate(483,890)"><rect class="bx" width="155" height="47" rx="7"/><text class="tt" x="77.5" y="14">Deep vein thrombosis</text><use href="#fp"/><rect class="br" x="43" y="19" width="0.1" height="4"/><rect class="br" x="43" y="28" width="77.9" height="4"/><text class="n" x="123.5" y="24.5">0.0010</text><text class="n" x="123.5" y="33.5">0.9990</text></g>

<g id="c-eryth-plaques" transform="translate(642,491)"><rect class="bx" width="155" height="47" rx="7"/><text class="tt" x="77.5" y="14">Erythematous plaques</text><use href="#fp"/><rect class="br" x="43" y="19" width="0.8" height="4"/><rect class="br" x="43" y="28" width="77.2" height="4"/><text class="n" x="123.5" y="24.5">0.0105</text><text class="n" x="123.5" y="33.5">0.9895</text></g>
<g id="c-itching" transform="translate(642,541)"><rect class="bx" width="155" height="47" rx="7"/><text class="tt" x="77.5" y="14">Itching</text><use href="#fp"/><rect class="br" x="43" y="19" width="7.6" height="4"/><rect class="br" x="43" y="28" width="70.4" height="4"/><text class="n" x="123.5" y="24.5">0.0974</text><text class="n" x="123.5" y="33.5">0.9026</text></g>
<g id="c-nail" transform="translate(642,591)"><rect class="bx" width="155" height="47" rx="7"/><text class="tt" x="77.5" y="14">Nail pitting</text><use href="#fp"/><rect class="br" x="43" y="19" width="0.8" height="4"/><rect class="br" x="43" y="28" width="77.2" height="4"/><text class="n" x="123.5" y="24.5">0.0101</text><text class="n" x="123.5" y="33.5">0.9899</text></g>
<g id="c-urethritis" transform="translate(642,639)"><rect class="bx" width="155" height="47" rx="7"/><text class="tt" x="77.5" y="14">Urethritis</text><use href="#fp"/><rect class="br" x="43" y="19" width="0.5" height="4"/><rect class="br" x="43" y="28" width="77.5" height="4"/><text class="n" x="123.5" y="24.5">0.0059</text><text class="n" x="123.5" y="33.5">0.9941</text></g>
<g id="c-coughing" transform="translate(642,688)"><rect class="bx" width="155" height="47" rx="7"/><text class="tt" x="77.5" y="14">Coughing</text><use href="#fp"/><rect class="br" x="43" y="19" width="55.2" height="4"/><rect class="br" x="43" y="28" width="22.8" height="4"/><text class="n" x="123.5" y="24.5">0.7082</text><text class="n" x="123.5" y="33.5">0.2918</text></g>
<g id="c-hemoptysis" transform="translate(642,737)"><rect class="bx" width="155" height="47" rx="7"/><text class="tt" x="77.5" y="14">Hemoptysis</text><use href="#fp"/><rect class="br" x="43" y="19" width="4.5" height="4"/><rect class="br" x="43" y="28" width="73.5" height="4"/><text class="n" x="123.5" y="24.5">0.0578</text><text class="n" x="123.5" y="33.5">0.9422</text></g>
<g id="c-nsaids" transform="translate(642,787)"><rect class="bx" width="155" height="47" rx="7"/><text class="tt" x="77.5" y="14">Good response to NSAIDs</text><use href="#fp"/><rect class="br" x="43" y="19" width="16.4" height="4"/><rect class="br" x="43" y="28" width="61.6" height="4"/><text class="n" x="123.5" y="24.5">0.2099</text><text class="n" x="123.5" y="33.5">0.7901</text></g>
<g id="c-mantoux" transform="translate(642,838)"><rect class="bx" width="155" height="47" rx="7"/><text class="tt" x="77.5" y="14">Mantoux &gt;10mm</text><use href="#fp"/><rect class="br" x="43" y="19" width="17.4" height="4"/><rect class="br" x="43" y="28" width="60.6" height="4"/><text class="n" x="123.5" y="24.5">0.2225</text><text class="n" x="123.5" y="33.5">0.7775</text></g>
<g id="c-iris" transform="translate(642,890)"><rect class="bx" width="155" height="47" rx="7"/><text class="tt" x="77.5" y="14">Iris nodes</text><use href="#fp"/><rect class="br" x="43" y="19" width="12.6" height="4"/><rect class="br" x="43" y="28" width="65.4" height="4"/><text class="n" x="123.5" y="24.5">0.1617</text><text class="n" x="123.5" y="33.5">0.8383</text></g>

<g id="c-macular" transform="translate(801,490)"><rect class="bx g" width="155" height="47" rx="7"/><text class="tt" x="77.5" y="14">Macular oedema</text><use href="#fp"/><rect class="br" x="43" y="19" width="78" height="4"/><text class="n" x="123.5" y="24.5">1.0000</text><text class="n" x="123.5" y="33.5">0.0000</text></g>
<g id="c-papulo" transform="translate(801,540)"><rect class="bx" width="155" height="47" rx="7"/><text class="tt" x="77.5" y="14">Papulopustular rash</text><use href="#fp"/><rect class="br" x="43" y="19" width="0.8" height="4"/><rect class="br" x="43" y="28" width="77.2" height="4"/><text class="n" x="123.5" y="24.5">0.0104</text><text class="n" x="123.5" y="33.5">0.9896</text></g>
<g id="c-eryth-nod" transform="translate(801,589)"><rect class="bx" width="155" height="47" rx="7"/><text class="tt" x="77.5" y="14">Erythema nodosum</text><use href="#fp"/><rect class="br" x="43" y="19" width="13.9" height="4"/><rect class="br" x="43" y="28" width="64.1" height="4"/><text class="n" x="123.5" y="24.5">0.1777</text><text class="n" x="123.5" y="33.5">0.8223</text></g>
<g id="c-rectal" transform="translate(801,637)"><rect class="bx" width="155" height="47" rx="7"/><text class="tt" x="77.5" y="14">Rectal bleeding</text><use href="#fp"/><rect class="br" x="43" y="19" width="11.7" height="4"/><rect class="br" x="43" y="28" width="66.3" height="4"/><text class="n" x="123.5" y="24.5">0.1498</text><text class="n" x="123.5" y="33.5">0.8502</text></g>
<g id="c-anas" transform="translate(801,687)"><rect class="bx" width="155" height="47" rx="7"/><text class="tt" x="77.5" y="14">ANAs</text><use href="#fn"/><rect class="br" x="43" y="19" width="2" height="4"/><rect class="br" x="43" y="28" width="76" height="4"/><text class="n" x="123.5" y="24.5">0.0262</text><text class="n" x="123.5" y="33.5">0.9738</text></g>
<g id="c-sacro" transform="translate(801,737)"><rect class="bx" width="155" height="47" rx="7"/><text class="tt" x="77.5" y="14">Sacroileitis</text><use href="#fp"/><rect class="br" x="43" y="19" width="2.1" height="4"/><rect class="br" x="43" y="28" width="75.9" height="4"/><text class="n" x="123.5" y="24.5">0.0268</text><text class="n" x="123.5" y="33.5">0.9732</text></g>
<g id="c-patergy" transform="translate(801,787)"><rect class="bx" width="155" height="47" rx="7"/><text class="tt" x="77.5" y="14">Patergy</text><use href="#fn"/><rect class="br" x="43" y="19" width="0.2" height="4"/><rect class="br" x="43" y="28" width="77.8" height="4"/><text class="n" x="123.5" y="24.5">0.0022</text><text class="n" x="123.5" y="33.5">0.9978</text></g>
<g id="c-joint" transform="translate(801,838)"><rect class="bx" width="155" height="47" rx="7"/><text class="tt" x="77.5" y="14">Joint pain</text><use href="#fp"/><rect class="br" x="43" y="19" width="17" height="4"/><rect class="br" x="43" y="28" width="61" height="4"/><text class="n" x="123.5" y="24.5">0.2183</text><text class="n" x="123.5" y="33.5">0.7817</text></g>
<g id="c-vitreous" transform="translate(801,889)"><rect class="bx" width="155" height="47" rx="7"/><text class="tt" x="77.5" y="14">Vitreous bleeding</text><use href="#fp"/><rect class="br" x="43" y="19" width="1.8" height="4"/><rect class="br" x="43" y="28" width="76.2" height="4"/><text class="n" x="123.5" y="24.5">0.0226</text><text class="n" x="123.5" y="33.5">0.9774</text></g>
</g>
</svg>
